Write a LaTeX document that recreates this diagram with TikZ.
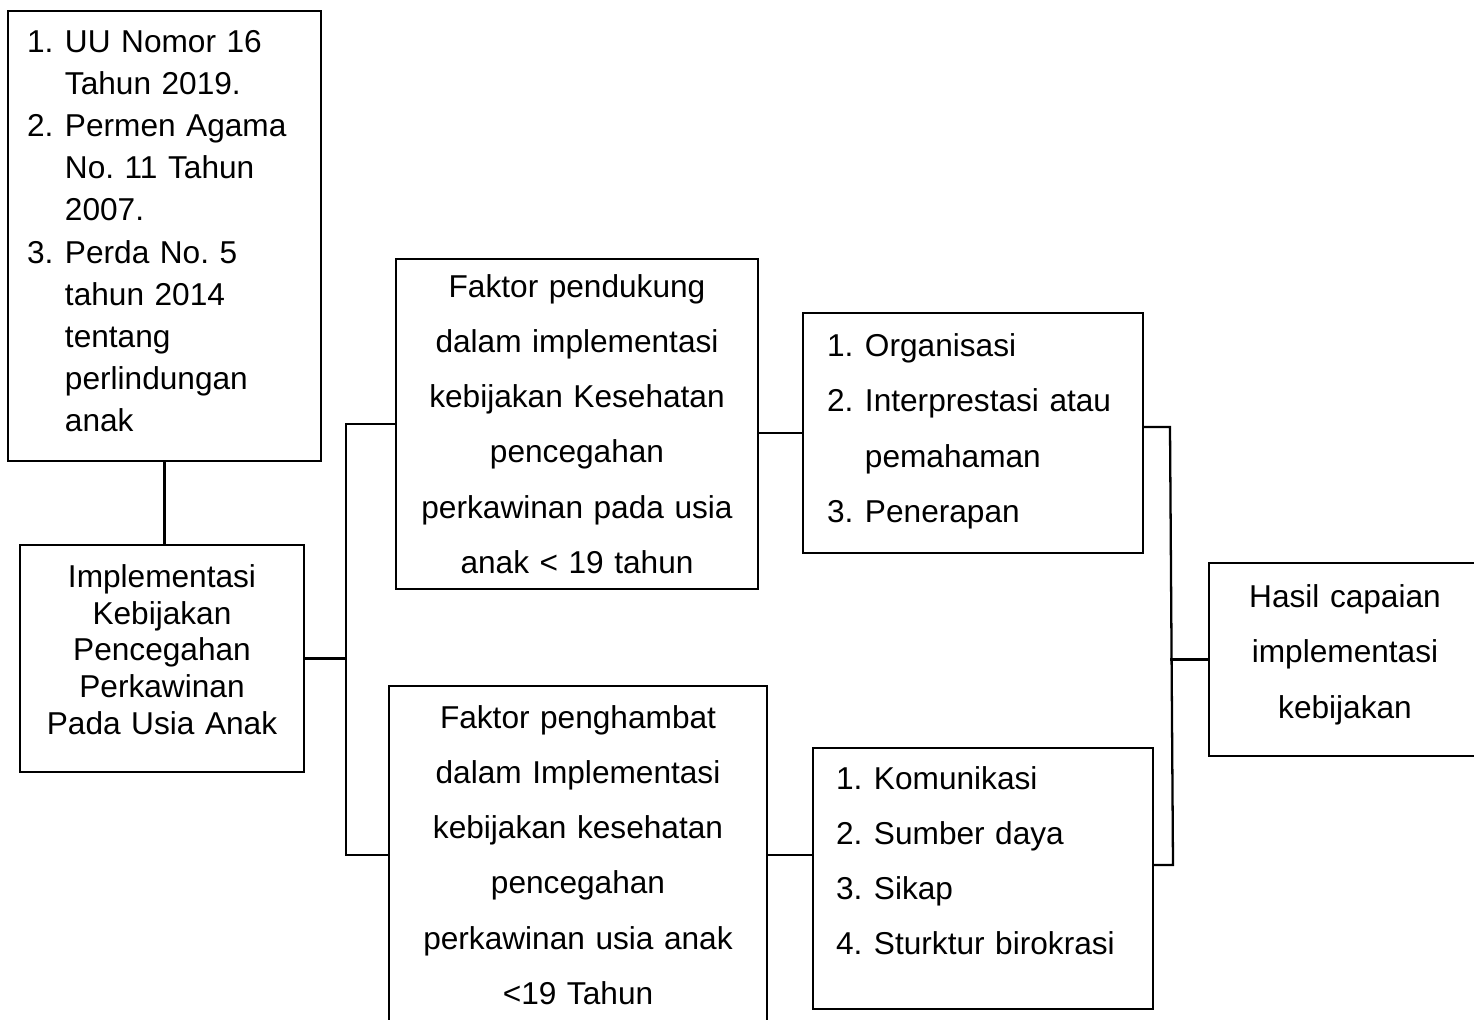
\documentclass[tikz,border=0pt]{standalone}
\usepackage{fontspec}
\setmainfont{Liberation Sans}
\frenchspacing
\newcommand{\numitem}[1]{\makebox[1.2em][l]{#1}}
\newcommand{\listindent}{\hspace*{1.2em}}
\newcommand{\textlift}[1]{\rule[-#1]{0pt}{0pt}}

\begin{document}
\begin{tikzpicture}[x=0.02cm,y=-0.02cm,every node/.style={font=\fontsize{18}{31.4}\selectfont}]
      \tikzstyle{box}=[draw,line width=0.9pt,inner sep=0pt,align=center]
      \tikzstyle{listbox}=[box,align=left]
      \tikzstyle{link}=[line width=1.3pt]
      \useasboundingbox (0,0) rectangle (1474,1019);
      \node[listbox,minimum width=6.26cm,minimum height=9cm,text width=5.5cm,
            font=\fontsize{18}{24}\selectfont] (legal) at (164.5,236)
           {\numitem{1.}UU Nomor 16\\\listindent Tahun 2019.\\
            \numitem{2.}Permen Agama\\\listindent No. 11 Tahun\\\listindent 2007.\\
            \numitem{3.}Perda No. 5\\\listindent tahun 2014\\\listindent tentang\\
            \listindent perlindungan\\\listindent anak\textlift{0.2cm}};
      \node[box,minimum width=5.68cm,minimum height=4.54cm,text width=5.4cm,
            font=\fontsize{18}{21}\selectfont] (impl) at (162,658.5)
           {Implementasi\\Kebijakan\\Pencegahan\\Perkawinan\\Pada Usia Anak\textlift{0.36cm}};
      \node[box,minimum width=7.24cm,minimum height=6.6cm,text width=6.8cm] (dukung) at (577,424)
           {Faktor pendukung\\dalam implementasi\\kebijakan Kesehatan\\pencegahan\\
            perkawinan pada usia\\anak < 19 tahun};
      \node[box,minimum width=7.56cm,minimum height=6.76cm,text width=7.1cm] (hambat) at (578,855)
           {Faktor penghambat\\dalam Implementasi\\kebijakan kesehatan\\pencegahan\\
            perkawinan usia anak\\<19 Tahun};
      \node[listbox,minimum width=6.8cm,minimum height=4.8cm,text width=5.84cm] (org) at (973,433)
           {\numitem{1.}Organisasi\\\numitem{2.}Interprestasi atau\\\listindent pemahaman\\
            \numitem{3.}Penerapan\textlift{0.2cm}};
      \node[listbox,minimum width=6.8cm,minimum height=5.22cm,text width=5.88cm] (kom) at (983,878.5)
           {\numitem{1.}Komunikasi\\\numitem{2.}Sumber daya\\\numitem{3.}Sikap\\
            \numitem{4.}Sturktur birokrasi\textlift{0.72cm}};
      \node[box,minimum width=5.44cm,minimum height=3.86cm,text width=5cm] (hasil) at (1345,659.5)
           {Hasil capaian\\implementasi\\kebijakan\textlift{0.32cm}};
      % brackets
      \coordinate (bl) at (346,661);
      \coordinate (rt) at (1170,427);
      \coordinate (rb) at (1173,865);
      \draw[link] (legal.south) -- (legal.south |- impl.north);
      \draw[link] (impl.east) -- (impl.east -| bl);
      \draw[link] (dukung.west) -| (bl |- hambat.west) -- (hambat.west);
      \draw[link] (org.west) -- (org.west -| dukung.east);
      \draw[link] (hambat.east) -- (hambat.east -| kom.west);
      \draw[link] (org.east |- rt) -- (rt) -- (rb) -- (kom.east |- rb);
      \draw[link] (hasil.west) -- (hasil.west -| rt);
    \end{tikzpicture}
\end{document}
